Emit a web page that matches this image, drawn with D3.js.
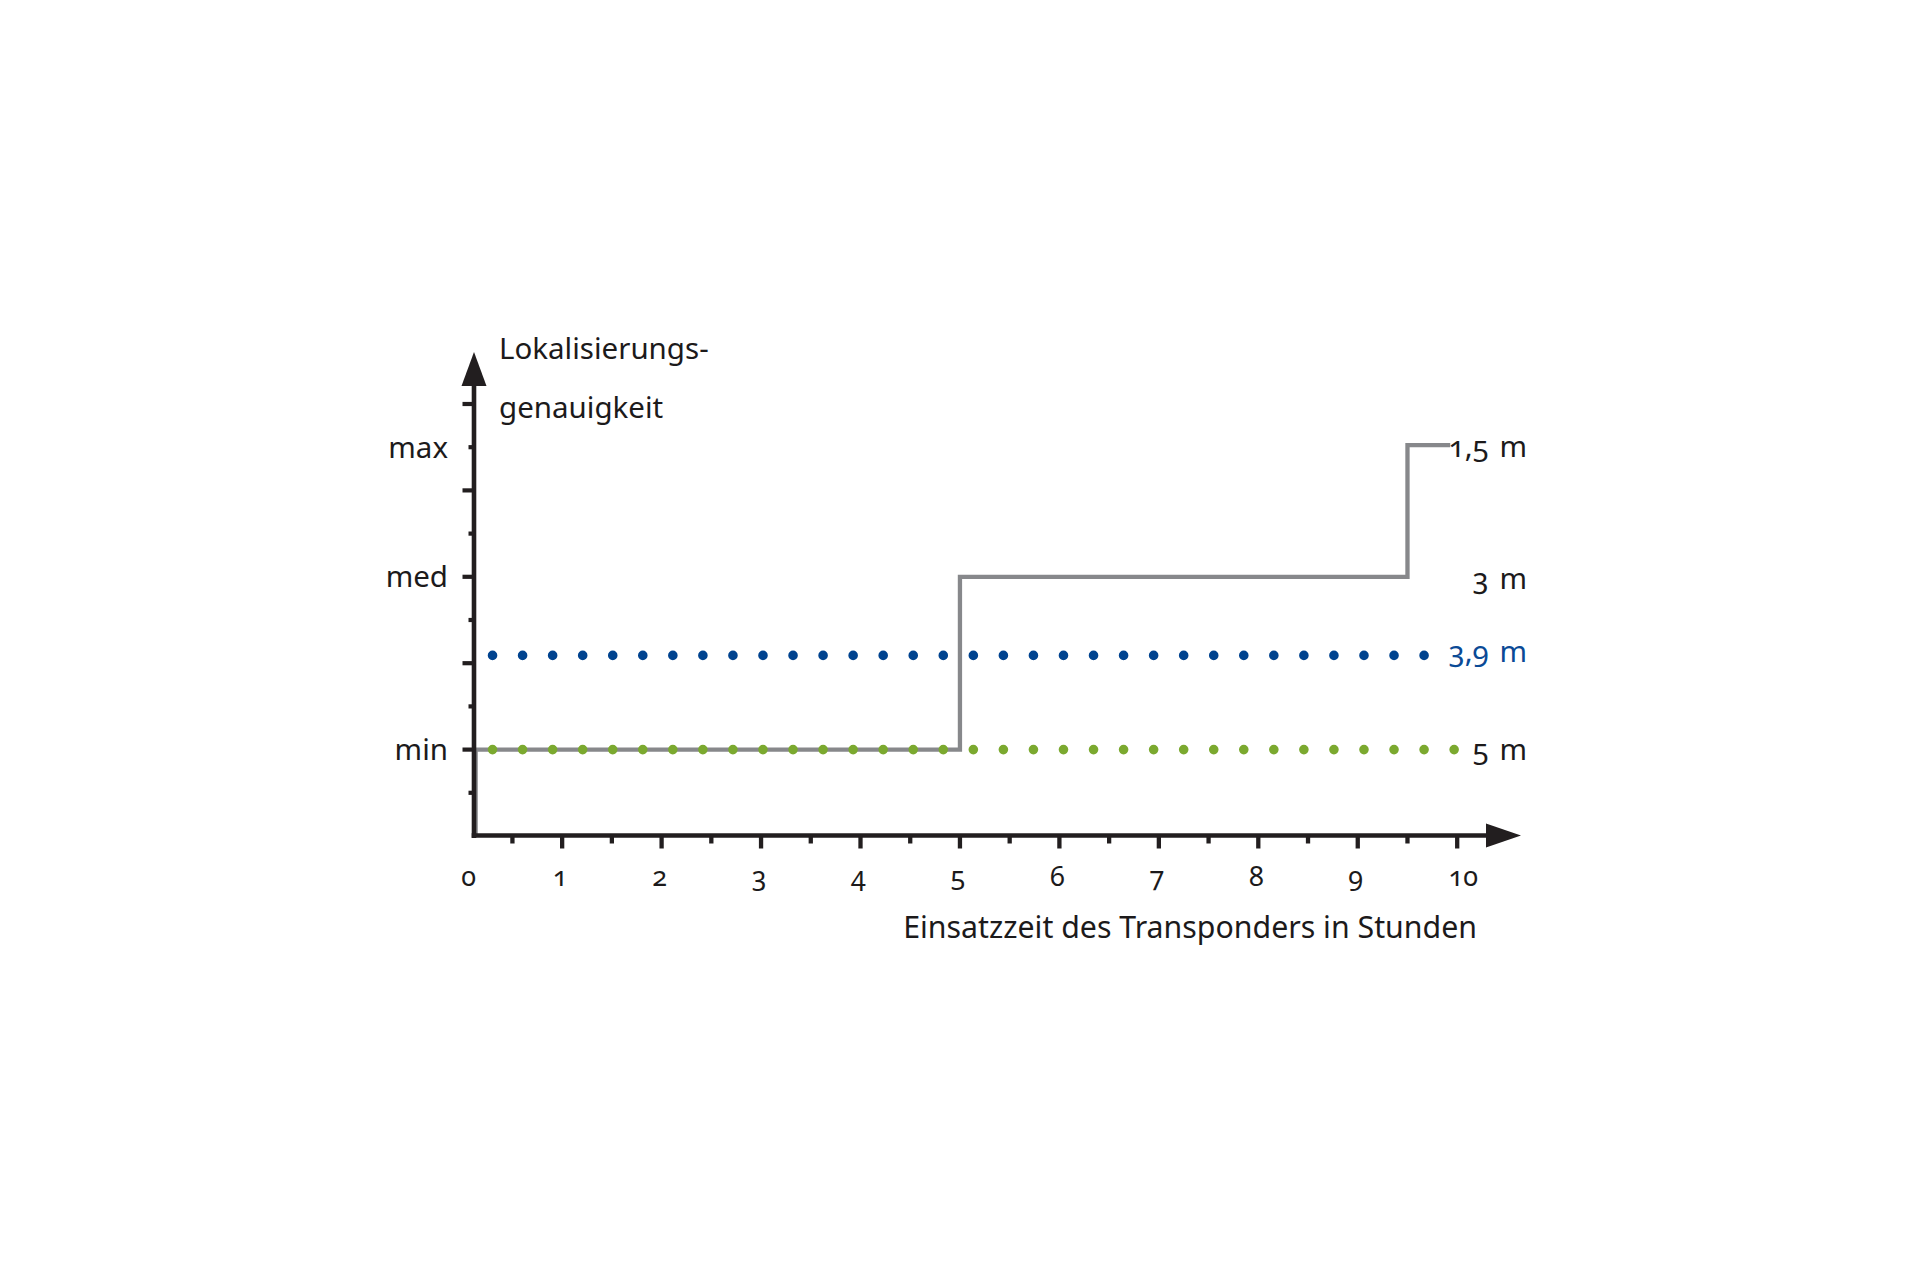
<!DOCTYPE html>
<html>
<head>
<meta charset="utf-8">
<script src="https://cdn.jsdelivr.net/npm/d3@7"></script>
<style>
  html, body { margin: 0; padding: 0; background: #ffffff; }
  svg text { font-family: "Noto Sans", sans-serif; fill: #1c1a1b; font-variant-numeric: oldstyle-nums; font-feature-settings: "onum" 1; }
</style>
</head>
<body>
<svg id="chart" width="1920" height="1280"></svg>
<script>
// ---- data ----
const xTickValues = [0, 1, 2, 3, 4, 5, 6, 7, 8, 9, 10];
const xTickLabels = ["0", "1", "2", "3", "4", "5", "6", "7", "8", "9", "10"];
const xMinorTicks = [0.5, 1.5, 2.5, 3.5, 4.5, 5.5, 6.5, 7.5, 8.5, 9.5];
const yMajorTicks = [2, 4, 6, 8, 10];
const yMinorTicks = [1, 3, 5, 7, 9];
const yLevelLabels = ["min", "med", "max"];
const yLevelValues = [2, 6, 9];

// grey step line: localisation accuracy over time
const stepX = [0.13, 0.13, 5, 5, 9.5, 9.5, 9.93];
const stepY = [0, 2, 2, 6, 6, 9.05, 9.05];

// dotted constant series
const blueX = [0.30, 9.672];
const blueY = [4.18, 4.18];
const greenX = [0.30, 9.982];
const greenY = [2, 2];

const endLabels = ["1,5 m", "3 m", "3,9 m", "5 m"];
const endValues = [9.05, 6, 4.18, 2];
const endColors = ["#1c1a1b", "#1c1a1b", "#0a4a96", "#1c1a1b"];

const yTitleLines = ["Lokalisierungs-", "genauigkeit"];
const xTitle = "Einsatzzeit des Transponders in Stunden";

// ---- scales ----
const x = d3.scaleLinear().domain([0, 10]).range([462.7, 1457.2]);
const y = d3.scaleLinear().domain([0, 10]).range([836, 404]);

const svg = d3.select("#chart");
const AX = 474;          // y-axis position
const axisColor = "#221e1f";

// dotted series
const line = d3.line().x(d => x(d[0])).y(d => y(d[1]));
function dotted(xs, ys, color) {
  svg.append("path")
    .attr("d", line(xs.map((v, i) => [v, ys[i]])))
    .attr("fill", "none")
    .attr("stroke", color)
    .attr("stroke-width", 9.6)
    .attr("stroke-linecap", "round")
    .attr("stroke-dasharray", "0 30.05");
}

// grey step line
svg.append("path")
  .attr("d", line(stepX.map((v, i) => [v, stepY[i]])))
  .attr("fill", "none")
  .attr("stroke", "#87888b")
  .attr("stroke-width", 4.3)
  .attr("stroke-linejoin", "miter");

dotted(blueX, blueY, "#00438f");
dotted(greenX, greenY, "#7ba92f");

// axes
svg.append("line").attr("x1", AX).attr("x2", AX).attr("y1", 380).attr("y2", 838)
  .attr("stroke", axisColor).attr("stroke-width", 4.6);
svg.append("line").attr("x1", AX - 2.3).attr("x2", 1490).attr("y1", 835.5).attr("y2", 835.5)
  .attr("stroke", axisColor).attr("stroke-width", 4.4);
// arrows
svg.append("path").attr("d", `M${AX},352 L${AX + 12.5},386 L${AX - 12.5},386 Z`).attr("fill", axisColor);
svg.append("path").attr("d", `M1521,835.5 L1486,823.5 L1486,847.5 Z`).attr("fill", axisColor);

// y ticks
svg.selectAll(".ymaj").data(yMajorTicks).join("line")
  .attr("x1", AX - 11.5).attr("x2", AX).attr("y1", d => y(d)).attr("y2", d => y(d))
  .attr("stroke", axisColor).attr("stroke-width", 4.2);
svg.selectAll(".ymin").data(yMinorTicks).join("line")
  .attr("x1", AX - 5.5).attr("x2", AX).attr("y1", d => y(d)).attr("y2", d => y(d))
  .attr("stroke", axisColor).attr("stroke-width", 4.2);

// x ticks
svg.selectAll(".xmaj").data(xTickValues.slice(1)).join("line")
  .attr("x1", d => x(d)).attr("x2", d => x(d)).attr("y1", 835).attr("y2", 848.5)
  .attr("stroke", axisColor).attr("stroke-width", 4.3);
svg.selectAll(".xmin").data(xMinorTicks).join("line")
  .attr("x1", d => x(d)).attr("x2", d => x(d)).attr("y1", 835).attr("y2", 843.5)
  .attr("stroke", axisColor).attr("stroke-width", 4.3);

// x tick labels
svg.selectAll(".xlab").data(xTickValues).join("text")
  .attr("x", (d, i) => x(d) + (i === 0 || i === 10 ? 6 : -2))
  .attr("y", 886)
  .attr("text-anchor", "middle")
  .attr("font-size", 27)
  .text((d, i) => xTickLabels[i]);

// y level labels
svg.selectAll(".ylab").data(yLevelValues).join("text")
  .attr("x", 448)
  .attr("y", d => y(d) + 10.5)
  .attr("text-anchor", "end")
  .attr("font-size", 29.5)
  .text((d, i) => yLevelLabels[i]);

// end labels
const endDy = [12, 12, 7, 10.5];
svg.selectAll(".elab").data(endValues).join("text")
  .attr("x", 1527)
  .attr("y", (d, i) => y(d) + endDy[i])
  .attr("text-anchor", "end")
  .attr("font-size", 29.5)
  .attr("word-spacing", 3)
  .style("fill", (d, i) => endColors[i])
  .text((d, i) => endLabels[i]);

// titles
svg.selectAll(".ytitle").data(yTitleLines).join("text")
  .attr("x", 499)
  .attr("y", (d, i) => 359 + i * 59)
  .attr("font-size", 29.5)
  .text(d => d);

svg.append("text")
  .attr("x", 1477).attr("y", 938)
  .attr("text-anchor", "end")
  .attr("font-size", 30.3)
  .text(xTitle);
</script>
</body>
</html>
